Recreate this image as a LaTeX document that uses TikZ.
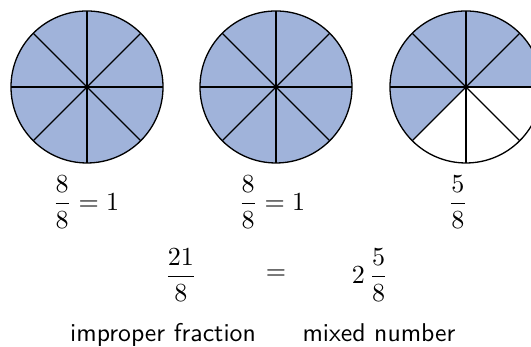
\documentclass[tikz,border=0pt]{standalone}
\usepackage{amsmath}
\usetikzlibrary{calc}
\definecolor{pie}{RGB}{160,179,218}
\begin{document}
\begin{tikzpicture}[x=0.42pt,y=0.42pt,
  wedge/.style={line width=0.5pt},
  rim/.style={line width=0.55pt},
  lbl/.style={inner sep=0pt,font=\fontsize{10.8}{13}\selectfont},
  word/.style={inner sep=0pt,anchor=base,font=\fontsize{10.8}{13}\selectfont\sffamily}]
\useasboundingbox (0,0) rectangle (531,347);
\clip (0,0) rectangle (531,347);
% centres
\coordinate (c1) at (87,260);
\coordinate (c2) at (276,260);
\coordinate (c3) at (466,260);
% circle 1 and 2: fully shaded
\foreach \c in {c1,c2}{
  \fill[pie] (\c) circle[radius=76];
  \foreach \a in {0,45,90,135}{
    \draw[wedge] ($(\c)+(\a:76)$) -- ($(\c)+(\a+180:76)$);
  }
  \draw[rim] (\c) circle[radius=76];
  \fill (\c) circle[radius=2];
}
% circle 3: five eighths shaded
\fill[pie] (c3) -- ++(0:76) arc[start angle=0,end angle=225,radius=76] -- cycle;
\foreach \a in {0,45,90,135}{
  \draw[wedge] ($(c3)+(\a:76)$) -- ($(c3)+(\a+180:76)$);
}
\draw[rim] (c3) circle[radius=76];
\fill (c3) circle[radius=2];
% labels
\node[lbl] (f1) at (86,145) {$\dfrac{8}{8}=1$};
\node[lbl] (f2) at (272,145) {$\dfrac{8}{8}=1$};
\node[lbl] (f3) at (458,145) {$\dfrac{5}{8}$};
\node[lbl] (imp) at (181,72) {$\dfrac{21}{8}$};
\node[lbl] (eq) at (276,72) {$=$};
\node[lbl] (mix) at (370,72) {$2\,\dfrac{5}{8}$};
\node[word] (timp) at (163,5) {improper fraction};
\node[word] (tmix) at (379,5) {mixed number};
\end{tikzpicture}
\end{document}
